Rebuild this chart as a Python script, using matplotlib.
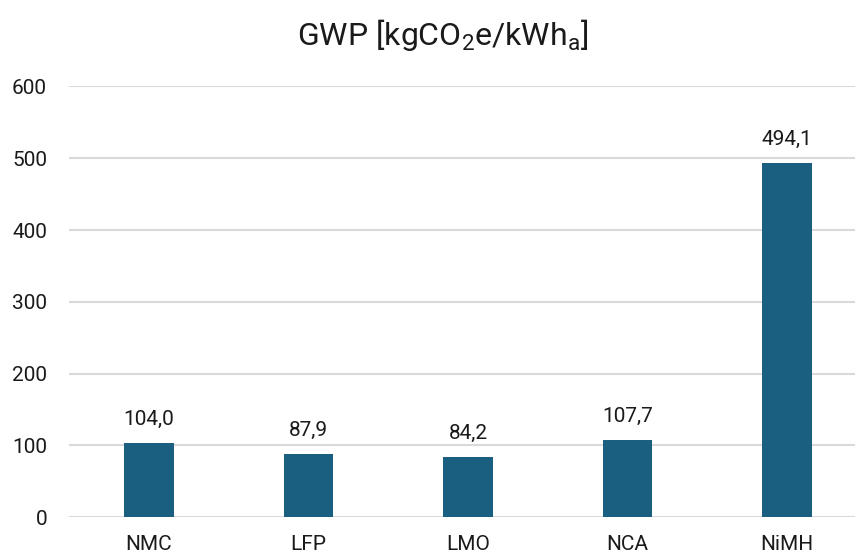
import matplotlib
matplotlib.use("Agg")
import matplotlib.pyplot as plt

categories = ["NMC", "LFP", "LMO", "NCA", "NiMH"]
values = [104.0, 87.9, 84.2, 107.7, 494.1]
yticks = [0, 100, 200, 300, 400, 500, 600]

plt.rcParams['font.family'] = ['Roboto', 'DejaVu Sans']
plt.rcParams['mathtext.fontset'] = 'custom'
plt.rcParams['mathtext.rm'] = 'Roboto'
plt.rcParams['mathtext.it'] = 'Roboto'

fig = plt.figure(figsize=(8.55, 5.59), dpi=100)
ax = fig.add_axes([0.081, 0.0746, 0.9327, 0.7707])

x = list(range(len(categories)))
ax.bar(x, values, width=0.313, color="#1A5E80", zorder=3)
for xi, v in zip(x, values):
    ax.annotate(f"{v:.1f}".replace(".", ","), (xi, v), xytext=(0, 10),
                textcoords="offset points", ha="center", va="bottom",
                fontsize=15, color="#1a1a1a")

ax.set_xlim(-0.5, len(categories) - 0.5)
ax.set_ylim(0, 600)
ax.set_yticks(yticks)
ax.set_yticklabels([str(t) for t in yticks], fontsize=15, color="#1a1a1a")
ax.set_xticks(x)
ax.set_xticklabels(categories, fontsize=15, color="#1a1a1a")
ax.tick_params(axis="y", length=0, pad=16)
ax.tick_params(axis="x", length=0, pad=13)
ax.grid(axis="y", color="#d9d9d9", linewidth=1.5, zorder=0)
for s in ax.spines.values():
    s.set_visible(False)

fig.text(443 / 855, 1 - 35 / 559, r"GWP [kgCO$_2$e/kWh$_\mathrm{a}$]",
         ha="center", va="center", fontsize=23, color="#1a1a1a")

fig.savefig("out.png", dpi=100)
